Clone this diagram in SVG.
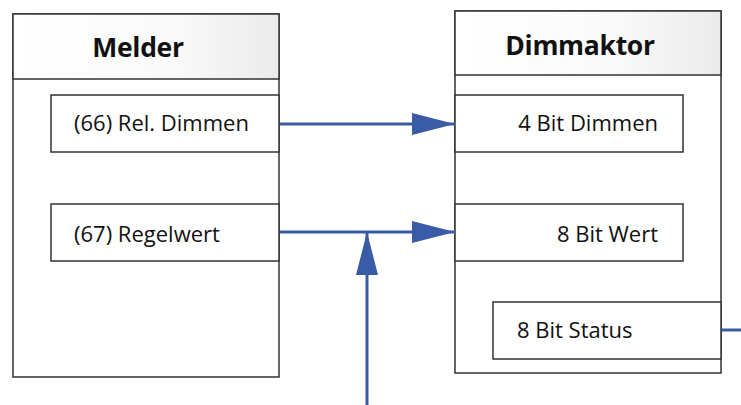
<svg xmlns="http://www.w3.org/2000/svg" width="741" height="405" viewBox="0 0 741 405">
<style>
.box{fill:#fff;stroke:#333;stroke-width:1.5}
.hdr{fill:url(#g);stroke:#333;stroke-width:1.5}
.t{font-family:"Open Sans","Noto Sans",sans-serif;font-size:22px;fill:#111}
.h{font-family:"Open Sans","Noto Sans",sans-serif;font-size:26.5px;font-weight:bold;fill:#111;letter-spacing:-0.3px}
.c{stroke:#3a5ba6;stroke-width:3;fill:none}
</style>
<defs>
<linearGradient id="g" x1="0" y1="0" x2="1" y2="0">
<stop offset="0" stop-color="#fff"/>
<stop offset="0.6" stop-color="#fafafa"/>
<stop offset="1" stop-color="#ebebeb"/>
</linearGradient>
<marker id="a" viewBox="0 0 43 22" refX="43" refY="11" markerWidth="43" markerHeight="22" markerUnits="userSpaceOnUse" orient="auto">
<path d="M0,0 L43,11 L0,22 Z" fill="#3a5ba6"/>
</marker>
</defs>
<g id="melder">
<rect class="box" x="13" y="14" width="266" height="363"/>
<rect class="hdr" x="13" y="14" width="266" height="65"/>
<text class="h" x="138" y="57" text-anchor="middle">Melder</text>
</g>
<g id="m66">
<rect class="box" x="51" y="95" width="228" height="57"/>
<text class="t" x="74" y="131">(66) Rel. Dimmen</text>
</g>
<g id="m67">
<rect class="box" x="51" y="204" width="228" height="57"/>
<text class="t" x="74" y="242">(67) Regelwert</text>
</g>
<g id="dimmaktor">
<rect class="box" x="455" y="11" width="266" height="362"/>
<rect class="hdr" x="455" y="11" width="266" height="64"/>
<text class="h" x="580" y="55" text-anchor="middle">Dimmaktor</text>
</g>
<g id="d4">
<rect class="box" x="455" y="95" width="228" height="57"/>
<text class="t" x="658" y="131" text-anchor="end">4 Bit Dimmen</text>
</g>
<g id="d8">
<rect class="box" x="455" y="204" width="228" height="57"/>
<text class="t" x="658" y="242" text-anchor="end">8 Bit Wert</text>
</g>
<g id="ds">
<rect class="box" x="493" y="302" width="228" height="57"/>
<text class="t" x="517" y="338">8 Bit Status</text>
</g>
<g id="connectors">
<line class="c" x1="280" y1="124" x2="455" y2="124" marker-end="url(#a)"/>
<line class="c" x1="280" y1="232" x2="455" y2="232" marker-end="url(#a)"/>
<line class="c" x1="367" y1="405" x2="367" y2="232" marker-end="url(#a)"/>
<line class="c" x1="722" y1="330" x2="741" y2="330"/>
</g>
</svg>
